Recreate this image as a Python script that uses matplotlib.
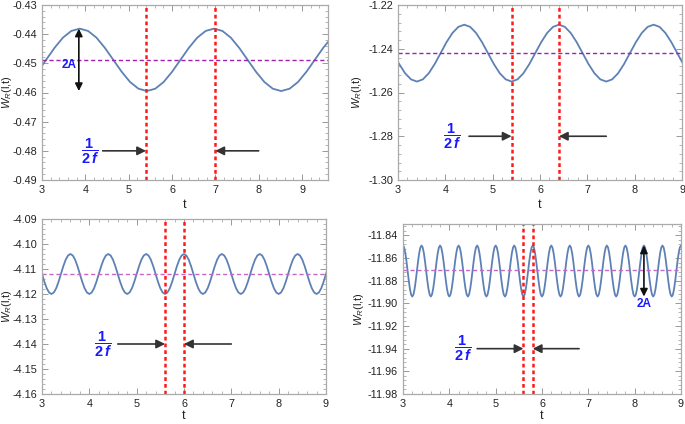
import matplotlib.pyplot as plt
import numpy as np
from matplotlib.ticker import MultipleLocator, FormatStrFormatter

# one period of W_R(l,t), starting at a peak (16 samples)
w1_period = [-0.4381, -0.4389, -0.4412, -0.4447, -0.4488, -0.4529, -0.4564, -0.4587,
             -0.4595, -0.4587, -0.4564, -0.4529, -0.4488, -0.4447, -0.4412, -0.4389]
w2_period = [-1.2290, -1.2300, -1.2328, -1.2370, -1.2420, -1.2470, -1.2512, -1.2540,
             -1.2550, -1.2540, -1.2512, -1.2470, -1.2420, -1.2370, -1.2328, -1.2300]
w3_period = [-4.1040, -4.1046, -4.1063, -4.1089, -4.1120, -4.1151, -4.1177, -4.1194,
             -4.1200, -4.1194, -4.1177, -4.1151, -4.1120, -4.1089, -4.1063, -4.1046]
w4_period = [-11.8490, -11.8507, -11.8556, -11.8629, -11.8715, -11.8801, -11.8874, -11.8923,
             -11.8940, -11.8923, -11.8874, -11.8801, -11.8715, -11.8629, -11.8556, -11.8507]

periods     = [3.10, 2.0, 0.8, 0.4]
first_peaks = [0.77, 2.4, 2.8, 2.6]
n_periods   = [3, 4, 8, 17]
mean_levels = [-0.4487, -1.2418, -4.1120, -11.8710]

# half-period markers (red dotted lines) and arrow level
half_lines  = [(5.4, 7.0), (5.4, 6.4), (5.6, 6.0), (5.6, 5.8)]
arrow_y     = [-0.480, -1.280, -4.140, -11.940]
arrow_tails = [(4.4, 8.0), (4.5, 7.4), (4.6, 7.0), (4.6, 6.8)]
frac_x      = [4.1, 4.15, 4.3, 4.3]

# amplitude markers (panel index, t, top, bottom, label x, label y)
amp_marks = [(0, 3.85, -0.4381, -0.4595, 3.62, -0.4505),
             (3, 8.2, -11.849, -11.894, 8.2, -11.901)]

xlims  = [(3, 9.6), (3, 9), (3, 9), (3, 9)]
ylims  = [(-0.49, -0.43), (-1.30, -1.22), (-4.16, -4.09), (-11.98, -11.83)]
ymajor = [0.01, 0.02, 0.01, 0.02]
yminor = [0.002, 0.004, 0.002, 0.004]
mean_colors = ['#a020b0', '#a020b0', '#c468c8', '#c468c8']

# axes boxes in pixels: left, top, right, bottom (figure is 685 x 424)
boxes = [(42, 5, 328, 180), (398, 5, 682, 180),
         (42, 219, 326, 394), (403, 224, 681, 394)]
ylabel_px = [7, 357, 7, 359]     # x centre of the y label
xlabel_px = [205, 205, 416, 416]  # y centre of the x label


def main():
    plt.rcParams['font.family'] = ['Liberation Sans', 'DejaVu Sans']
    plt.rcParams['mathtext.fontset'] = 'custom'
    plt.rcParams['mathtext.rm'] = 'Liberation Sans'
    plt.rcParams['mathtext.it'] = 'Liberation Sans:italic'
    plt.rcParams['mathtext.bf'] = 'Liberation Sans:bold'
    plt.rcParams['mathtext.bfit'] = 'Liberation Sans:bold:italic'

    W, H = 685., 424.
    fig = plt.figure(figsize=(6.85, 4.24), dpi=100)
    wlist = [w1_period, w2_period, w3_period, w4_period]

    for i in range(4):
        l, tp, r, bt = boxes[i]
        ax = fig.add_axes([l / W, 1 - bt / H, (r - l) / W, (bt - tp) / H])
        prof = np.array(wlist[i])
        w = np.append(np.tile(prof, n_periods[i]), prof[0])
        t = first_peaks[i] + np.arange(len(w)) * periods[i] / len(prof)
        ax.plot(t, w, color='#5e81b5', lw=1.3)

        ax.axhline(mean_levels[i], color=mean_colors[i], lw=1.0, ls=(0, (3, 2)))
        for xv in half_lines[i]:
            ax.axvline(xv, color='#ff1a1a', lw=1.8, ls=(0, (1.5, 1.2)))

        # 1/(2f) arrows
        a, b = half_lines[i]
        ta, tb = arrow_tails[i]
        props = dict(arrowstyle='-|>', color='#333333', lw=1.2, mutation_scale=13,
                     shrinkA=0, shrinkB=0)
        ax.annotate('', xy=(a, arrow_y[i]), xytext=(ta, arrow_y[i]), arrowprops=props)
        ax.annotate('', xy=(b, arrow_y[i]), xytext=(tb, arrow_y[i]), arrowprops=props)
        ax.text(frac_x[i], arrow_y[i], r'$\mathbf{\dfrac{1}{2\,\mathbfit{f}}}$',
                color='#1a1aff', fontsize=10.5, ha='center', va='center')

        ax.set_xlim(*xlims[i])
        ax.set_ylim(*ylims[i])
        ax.xaxis.set_major_locator(MultipleLocator(1))
        ax.xaxis.set_minor_locator(MultipleLocator(0.2))
        ax.yaxis.set_major_locator(MultipleLocator(ymajor[i]))
        ax.yaxis.set_minor_locator(MultipleLocator(yminor[i]))
        ax.yaxis.set_major_formatter(FormatStrFormatter('%.2f'))
        ax.tick_params(which='both', direction='in', top=True, right=True,
                       color='#999999', labelsize=7.8, labelcolor='#222222')
        ax.tick_params(which='major', length=4, width=0.7)
        ax.tick_params(which='minor', length=2, width=0.5)
        for s in ax.spines.values():
            s.set_color('#aaaaaa')
            s.set_linewidth(0.9)
        ax.set_xlabel('t', fontsize=9, color='#222222')
        ax.set_ylabel(r'$W_R$(l,t)', fontsize=8, color='#222222')
        ax.yaxis.set_label_coords((ylabel_px[i] - l) / (r - l), 0.5)
        ax.xaxis.set_label_coords(0.5, (bt - xlabel_px[i]) / (bt - tp))
        ax.xaxis.label.set_va('center')
        ax.yaxis.label.set_va('center')

    # amplitude (2A) markers
    axes = fig.get_axes()
    for k, tx, top, bot, lx, ly in amp_marks:
        ax = axes[k]
        ax.annotate('', xy=(tx, top), xytext=(tx, bot),
                    arrowprops=dict(arrowstyle='<|-|>', color='#111111', lw=1.2,
                                    mutation_scale=11, shrinkA=0, shrinkB=0))
        ax.text(lx, ly, '2A', color='#1a1aff', fontsize=8.5, fontweight='bold',
                ha='center', va='center')

    fig.savefig('out.png', dpi=100)


################################################################################
if __name__ == "__main__":
    main()
